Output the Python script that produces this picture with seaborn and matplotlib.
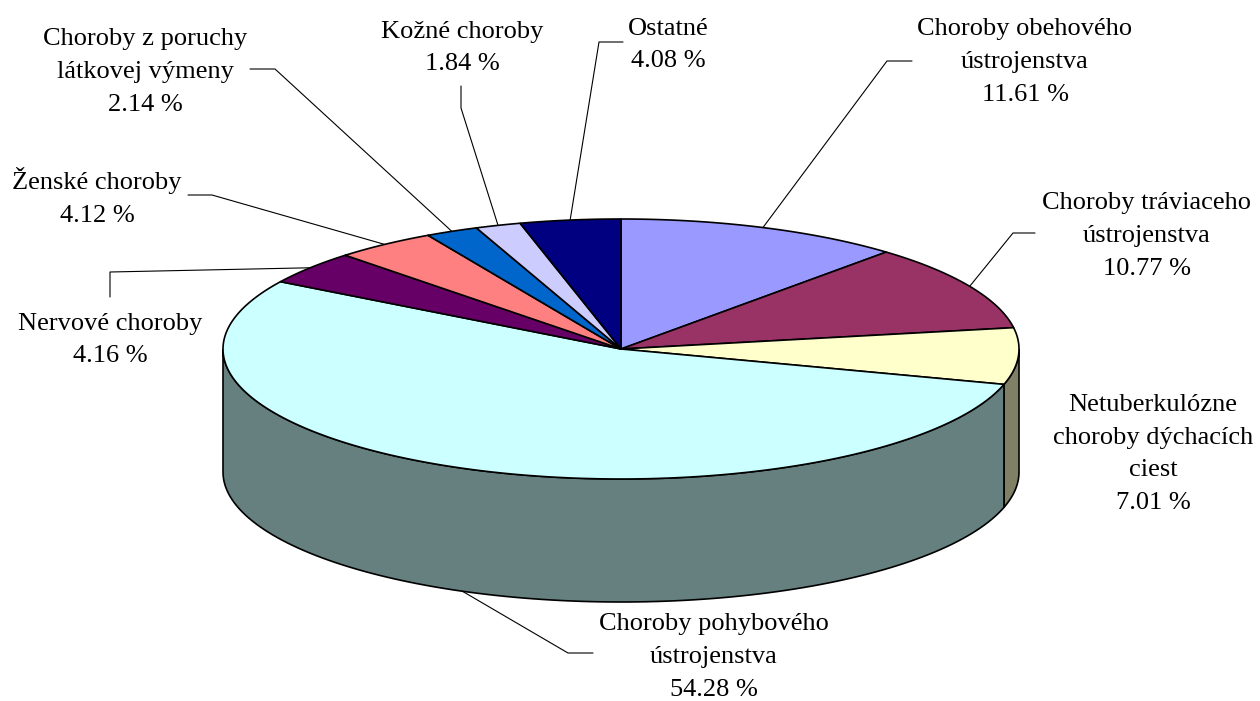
import numpy as np
import matplotlib
matplotlib.use("Agg")
import matplotlib.pyplot as plt
import seaborn as sns

# data
categories = [
    "Choroby obehového\nústrojenstva",
    "Choroby tráviaceho\nústrojenstva",
    "Netuberkulózne\nchoroby dýchacích\nciest",
    "Choroby pohybového\nústrojenstva",
    "Nervové choroby",
    "Ženské choroby",
    "Choroby z poruchy\nlátkovej výmeny",
    "Kožné choroby",
    "Ostatné",
]
shares = [11.61, 10.77, 7.01, 54.28, 4.16, 4.12, 2.14, 1.84, 4.08]
slice_colors = ["#9999FF", "#993366", "#FFFFCC", "#CCFFFF", "#660066",
                "#FF8080", "#0066CC", "#CCCCFF", "#000080"]

# layout (pixels): label centre, leader stub points, anchor on bottom rim?
label_pos = [(1025, 62), (1147, 236), (1153, 454), (714, 657), (110, 340),
             (97, 197), (145, 72), (462, 48), (668, 45)]
leaders = [
    [(912, 61), (887, 61)],
    [(1035, 233), (1013, 233)],
    None,
    [(593, 653), (568, 653)],
    [(110, 297), (110, 272)],
    [(188, 195), (212, 195)],
    [(250, 69), (275, 69)],
    [(461, 86), (461, 108)],
    [(623, 42), (599, 42)],
]
anchor_bottom = [False, False, False, True, False, False, False, False, False]

cx, cy, rx, ry, depth = 621, 349, 398, 130, 123

sns.set_theme(style="white")
plt.rcParams["font.family"] = ["Liberation Serif", "DejaVu Serif"]

pal = sns.color_palette(slice_colors)
side_pal = [tuple(c * 0.5 for c in col) for col in pal]

fig = plt.figure(figsize=(12.6, 7.01), dpi=100)
ax = fig.add_axes([0, 0, 1, 1])
ax.set_xlim(0, 1260)
ax.set_ylim(701, 0)
ax.axis("off")


def rim(theta_deg, drop=0.0):
    t = np.radians(theta_deg)
    return cx + rx * np.cos(t), cy - ry * np.sin(t) + drop


total = sum(shares)
cum = np.concatenate([[0], np.cumsum(shares)])
starts = 90 - 360 * cum[:-1] / total
ends = 90 - 360 * cum[1:] / total

# side walls (front half only)
for i in range(len(shares)):
    lo, hi = ends[i], starts[i]
    for k in (-1, 0, 1):
        a = max(lo, -180 + 360 * k)
        b = min(hi, 360 * k)
        if b <= a:
            continue
        th = np.linspace(a, b, 120)
        xt, yt = rim(th)
        xb, yb = rim(th[::-1], depth)
        ax.fill(np.concatenate([xt, xb]), np.concatenate([yt, yb]),
                facecolor=side_pal[i], edgecolor="black", lw=1.2, zorder=1)

# top faces
for i in range(len(shares)):
    th = np.linspace(starts[i], ends[i], 200)
    xs, ys = rim(th)
    ax.fill(np.concatenate([[cx], xs]), np.concatenate([[cy], ys]),
            facecolor=pal[i], edgecolor="black", lw=1.2, zorder=2,
            joinstyle="round")

# labels and leader lines
for i, name in enumerate(categories):
    tx, ty = label_pos[i]
    ax.text(tx, ty, f"{name}\n{shares[i]:.2f} %", ha="center", va="center",
            multialignment="center", fontsize=19, linespacing=1.62,
            color="black", zorder=4)
    if leaders[i] is None:
        continue
    mid = (starts[i] + ends[i]) / 2
    axp, ayp = rim(mid, depth if anchor_bottom[i] else 0)
    pts = leaders[i] + [(axp, ayp)]
    ax.plot([p[0] for p in pts], [p[1] for p in pts], color="black",
            lw=0.8, zorder=3)

fig.savefig("out.png", dpi=100)
